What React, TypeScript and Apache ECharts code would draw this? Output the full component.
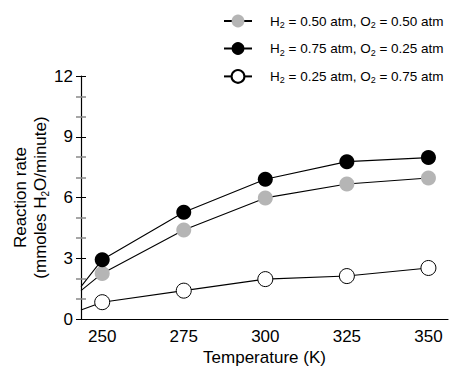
import React, { useEffect, useRef } from "react";
import * as echarts from "echarts";

const temps = [250, 275, 300, 325, 350];
const startTemp = 243.5;
const greyStart = 1.4;
const greyValues = [2.25, 4.4, 5.98, 6.67, 6.96];
const blackStart = 1.6;
const blackValues = [2.93, 5.27, 6.9, 7.77, 7.97];
const whiteStart = 0.44;
const whiteValues = [0.83, 1.4, 1.97, 2.12, 2.52];
const xTickLabels = [250, 275, 300, 325, 350];
const names = [
  "H{s|2} = 0.50 atm, O{s|2} = 0.50 atm",
  "H{s|2} = 0.75 atm, O{s|2} = 0.25 atm",
  "H{s|2} = 0.25 atm, O{s|2} = 0.75 atm",
];

const font = "Liberation Sans, Arial, sans-serif";

function buildData(start: number, vals: number[]) {
  const d: any[] = [{ value: [startTemp, start], symbol: "none" }];
  temps.forEach((t, i) => d.push([t, vals[i]]));
  return d;
}

export default function App() {
  const ref = useRef<HTMLDivElement>(null);
  useEffect(() => {
    const chart = echarts.init(ref.current!, undefined, { renderer: "svg" });
    const mk = (name: string, start: number, vals: number[], fill: string, border: string, bw: number) => ({
      name,
      type: "line",
      data: buildData(start, vals),
      symbol: "circle",
      symbolSize: 15,
      lineStyle: { color: "#000", width: 1.1 },
      itemStyle: { color: fill, borderColor: border, borderWidth: bw },
      emphasis: { disabled: true },
      z: 3,
    });
    chart.setOption({
      animation: false,
      backgroundColor: "#fff",
      textStyle: { fontFamily: font },
      legend: {
        orient: "vertical",
        left: 218,
        top: 9,
        itemGap: 12,
        itemWidth: 28,
        itemHeight: 16,
        data: names,
        textStyle: {
          fontFamily: font,
          fontSize: 13.5,
          color: "#000",
          padding: [0, 0, 0, 13],
          rich: { s: { fontSize: 9, verticalAlign: "bottom", padding: [8, 0, 0, 0], fontFamily: font } },
        },
      },
      grid: { left: 81, right: 20, top: 76, bottom: 56, containLabel: false, outerBoundsMode: "none" },
      xAxis: {
        type: "value",
        min: startTemp,
        max: 356,
        axisLine: { show: true, lineStyle: { color: "#000", width: 1.2 } },
        axisTick: { show: false },
        splitLine: { show: false },
        axisLabel: {
          customValues: xTickLabels,
          fontSize: 17,
          color: "#000",
          margin: 9,
          fontFamily: font,
        },
        name: "Temperature (K)",
        nameLocation: "middle",
        nameGap: 30,
        nameMoveOverlap: false,
        nameTextStyle: { fontSize: 17, color: "#000", fontFamily: font },
      },
      yAxis: [
        {
          type: "value",
          min: 0,
          max: 12,
          interval: 3,
          axisLine: { show: true, lineStyle: { color: "#000", width: 1.2 } },
          axisTick: { show: true, length: 5, lineStyle: { color: "#000" } },
          minorTick: { show: true, splitNumber: 3, length: 5, lineStyle: { color: "#888", width: 1.5 } },
          splitLine: { show: false },
          axisLabel: { fontSize: 17, color: "#000", margin: 8, fontFamily: font },
          name: "Reaction rate\n(mmoles H{s|2}O/minute)",
          nameLocation: "middle",
          nameRotate: 90,
          nameGap: 31,
          nameMoveOverlap: false,
          nameTextStyle: {
            fontSize: 17,
            color: "#000",
            fontFamily: font,
            lineHeight: 20,
            rich: { s: { fontSize: 10, verticalAlign: "bottom", padding: [9, 0, 0, 0], fontFamily: font } },
          },
        },
        {
          type: "value",
          min: 0,
          max: 12,
          interval: 3,
          position: "left",
          axisLine: { show: false },
          axisTick: { show: true, inside: true, length: 5, lineStyle: { color: "#000" } },
          minorTick: { show: true, splitNumber: 3, length: 5, lineStyle: { color: "#888", width: 1.5 } },
          splitLine: { show: false },
          axisLabel: { show: false },
        },
      ],
      series: [
        mk(names[0], greyStart, greyValues, "#b5b5b5", "#b5b5b5", 0),
        mk(names[1], blackStart, blackValues, "#000", "#000", 0),
        mk(names[2], whiteStart, whiteValues, "#fff", "#000", 1),
      ],
    });
    return () => chart.dispose();
  }, []);
  return <div ref={ref} style={{ position: "fixed", left: 0, top: 0, width: 468, height: 375 }} />;
}
